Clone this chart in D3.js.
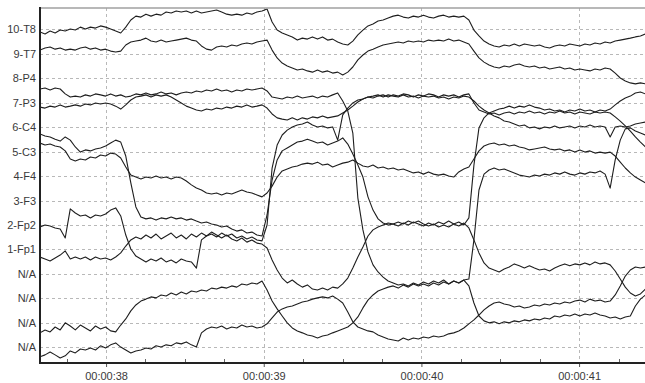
<!DOCTYPE html>
<html>
<head>
<meta charset="utf-8">
<script src="https://cdn.jsdelivr.net/npm/d3@7"></script>
<style>
  html, body { margin: 0; padding: 0; background: #fff; }
  svg { display: block; font-family: "Liberation Sans", Arial, sans-serif; }
</style>
</head>
<body>
<div id="chart"></div>
<script>
// channel rows, bottom (1) to top (14)
const channelLabels = ["N/A", "N/A", "N/A", "N/A", "1-Fp1", "2-Fp2", "3-F3", "4-F4", "5-C3", "6-C4", "7-P3", "8-P4", "9-T7", "10-T8"];
const secondTicks = [38, 39, 40, 41];
const timeSpan = [37.581, 41.418];
const startTime = 37.581;   // s, first sample
const sampleStep = 0.032;   // s between samples

// signal values, in channel-row units
const traceA = [13.89,13.81,13.93,13.85,13.97,13.93,14.01,13.97,14.09,14.01,
  14.09,14.05,14.14,14.09,14.01,13.93,13.85,14.09,14.38,14.54,
  14.50,14.62,14.54,14.62,14.58,14.71,14.67,14.75,14.71,14.75,
  14.67,14.75,14.67,14.71,14.75,14.79,14.71,14.62,14.58,14.62,
  14.58,14.67,14.62,14.71,14.75,14.83,14.30,13.97,13.85,13.77,
  13.69,13.56,13.64,13.60,13.69,13.60,13.69,13.56,13.60,13.48,
  13.40,13.36,13.52,13.77,13.97,14.14,14.22,14.34,14.38,14.46,
  14.54,14.58,14.50,14.46,14.54,14.50,14.58,14.50,14.46,14.54,
  14.58,14.50,14.54,14.50,14.54,14.38,13.97,13.73,13.52,13.40,
  13.32,13.28,13.36,13.32,13.40,13.32,13.40,13.36,13.32,13.36,
  13.28,13.24,13.32,13.36,13.32,13.40,13.36,13.32,13.40,13.36,
  13.44,13.40,13.48,13.44,13.52,13.56,13.60,13.64,13.69,13.73,
  13.81];
const traceB = [13.15,13.24,13.28,13.19,13.24,13.15,13.19,13.15,13.24,13.28,
  13.19,13.24,13.15,13.19,13.11,13.07,13.11,13.36,13.48,13.52,
  13.56,13.64,13.52,13.48,13.56,13.48,13.52,13.56,13.60,13.64,
  13.56,13.52,13.32,13.19,13.15,13.28,13.32,13.28,13.36,13.32,
  13.40,13.44,13.40,13.48,13.52,13.56,13.15,12.83,12.62,12.50,
  12.42,12.34,12.38,12.30,12.25,12.34,12.25,12.30,12.21,12.25,
  12.13,12.25,12.46,12.75,12.95,13.11,13.19,13.28,13.36,13.40,
  13.44,13.48,13.44,13.52,13.48,13.52,13.48,13.56,13.52,13.56,
  13.52,13.60,13.52,13.56,13.48,13.40,13.11,12.83,12.66,12.54,
  12.46,12.42,12.50,12.46,12.54,12.58,12.50,12.46,12.50,12.42,
  12.46,12.38,12.42,12.46,12.38,12.42,12.34,12.38,12.34,12.30,
  12.38,12.34,12.42,12.38,12.21,12.01,11.89,11.81,11.77,11.81,
  11.77];
const traceC = [11.56,11.60,11.52,11.60,11.56,11.36,11.23,11.27,11.23,11.32,
  11.27,11.36,11.32,11.27,11.36,11.27,11.32,11.23,11.27,11.36,
  11.32,11.40,11.32,11.36,11.44,11.36,11.40,11.32,11.40,11.44,
  11.40,11.48,11.44,11.52,11.48,11.56,11.48,11.52,11.44,11.52,
  11.48,11.56,11.52,11.56,11.60,11.48,11.23,11.19,11.15,11.23,
  11.19,11.27,11.19,11.23,11.27,11.19,11.27,11.23,11.32,11.40,
  11.07,10.66,9.76,7.10,5.80,4.90,4.37,4.08,3.87,3.71,
  3.63,3.55,3.59,3.51,3.63,3.55,3.67,3.59,3.71,3.63,
  3.75,3.59,3.71,3.63,3.75,3.51,2.81,2.28,2.08,2.00,
  2.04,1.96,2.04,2.00,2.08,2.04,2.12,2.08,2.16,2.12,
  2.20,2.16,2.28,2.24,2.32,2.28,2.36,2.28,2.36,2.32,
  2.40,2.32,2.28,2.20,2.24,2.16,2.24,2.28,2.69,2.97,
  3.14];
const traceD = [10.82,10.78,10.86,10.82,10.91,10.82,10.86,10.91,10.86,10.95,
  10.91,10.99,10.95,10.99,10.95,10.86,10.74,10.91,11.11,11.23,
  11.27,11.32,11.23,11.32,11.27,11.32,11.23,11.11,10.99,10.86,
  10.78,10.70,10.66,10.74,10.70,10.78,10.74,10.82,10.78,10.86,
  10.82,10.91,10.82,10.86,10.91,10.78,10.54,10.38,10.33,10.29,
  10.38,10.29,10.38,10.33,10.42,10.38,10.46,10.38,10.42,10.46,
  10.58,10.70,10.86,11.03,11.15,11.23,11.27,11.32,11.23,11.32,
  11.27,11.23,11.32,11.23,11.27,11.19,11.27,11.23,11.27,11.19,
  11.23,11.15,11.23,11.19,11.27,11.23,11.07,10.86,10.70,10.58,
  10.46,10.38,10.25,10.21,10.13,10.05,10.09,9.97,10.01,9.93,
  10.01,9.97,10.05,9.97,10.01,10.05,9.97,10.05,10.01,10.09,
  10.01,10.05,10.01,9.60,10.01,10.05,10.01,10.05,10.13,10.17,
  10.21];
const traceE = [9.72,9.64,9.60,9.51,9.43,9.60,9.47,9.19,8.98,9.07,
  9.03,9.11,9.15,9.23,9.35,9.47,9.39,8.82,7.72,6.74,
  6.33,6.25,6.29,6.20,6.29,6.25,6.33,6.25,6.29,6.20,
  6.25,6.16,6.08,6.12,6.04,6.00,5.92,5.96,5.84,5.75,
  5.80,5.67,5.71,5.59,5.55,6.41,7.84,8.66,9.03,9.15,
  9.27,9.39,9.43,9.51,9.43,9.35,9.39,9.27,9.35,9.43,
  9.56,9.31,8.90,8.45,7.96,7.15,6.61,6.25,6.08,6.00,
  6.04,5.96,6.08,6.00,6.12,6.04,5.96,6.08,6.00,6.12,
  6.04,6.16,6.04,6.12,6.00,6.29,8.45,9.97,10.38,10.58,
  10.66,10.74,10.78,10.86,10.78,10.86,10.82,10.91,10.82,10.78,
  10.70,10.74,10.66,10.70,10.62,10.70,10.66,10.74,10.66,10.70,
  10.62,10.70,10.66,10.74,10.91,11.07,11.19,11.27,11.40,11.44,
  11.36];
const traceF = [9.35,9.27,9.31,9.23,9.19,9.03,8.70,8.62,8.70,8.66,
  8.78,8.74,8.86,8.82,8.94,8.90,8.74,8.37,8.04,7.96,
  7.88,7.96,7.92,8.00,7.92,7.96,7.88,7.96,7.92,7.80,
  7.64,7.51,7.43,7.31,7.27,7.31,7.23,7.31,7.27,7.35,
  7.43,7.35,7.31,7.23,7.15,7.31,7.59,7.96,8.21,8.29,
  8.37,8.41,8.49,8.53,8.49,8.57,8.45,8.49,8.37,8.45,
  8.53,8.57,8.66,8.53,8.41,8.37,8.45,8.33,8.37,8.29,
  8.33,8.25,8.29,8.21,8.13,8.17,8.08,8.17,8.08,8.04,
  8.08,8.00,7.96,8.17,8.29,8.37,8.70,9.03,9.23,9.31,
  9.35,9.27,9.31,9.23,9.27,9.19,9.15,9.07,9.11,9.15,
  9.19,9.11,9.07,9.11,9.03,9.07,8.98,9.07,8.98,9.03,
  8.94,8.98,8.94,8.98,8.82,8.57,8.33,8.13,7.96,7.84,
  7.72];
const traceG = [5.92,6.00,5.96,5.88,5.84,5.47,6.66,6.49,6.37,6.41,
  6.29,6.41,6.37,6.45,6.61,6.70,6.37,5.59,5.02,4.73,
  4.61,4.49,4.61,4.53,4.65,4.49,4.57,4.45,4.61,4.53,
  4.49,4.24,5.39,5.55,5.63,5.51,5.67,5.55,5.63,5.47,
  5.55,5.43,5.51,5.39,5.35,6.00,8.33,9.27,9.68,9.88,
  10.01,10.09,10.13,10.21,10.09,10.01,10.05,9.97,10.01,9.47,
  10.50,10.78,10.99,11.11,11.15,11.23,11.19,11.27,11.32,11.23,
  11.32,11.27,11.36,11.32,11.23,11.32,11.27,11.36,11.32,11.23,
  11.32,11.27,11.32,11.23,11.32,11.36,10.99,10.70,10.62,10.54,
  10.58,10.50,10.58,10.62,10.54,10.62,10.58,10.66,10.58,10.62,
  10.54,10.62,10.58,10.66,10.58,10.62,10.54,10.62,10.58,10.54,
  10.62,10.58,10.62,10.58,10.42,10.25,10.05,9.84,9.60,9.39,
  9.19];
const traceH = [4.69,4.61,4.53,4.65,4.77,4.94,4.61,4.69,4.61,4.69,
  4.57,4.69,4.61,4.65,4.57,4.69,4.86,5.14,5.39,5.51,
  5.43,5.59,5.47,5.63,5.43,5.55,5.67,5.47,5.59,5.43,
  5.63,5.51,5.67,5.55,5.71,5.59,5.47,5.59,5.43,5.35,
  5.47,5.30,5.39,5.26,5.22,5.06,4.57,4.16,3.83,3.63,
  3.75,3.59,3.46,3.55,3.38,3.34,3.42,3.34,3.46,3.42,
  3.59,3.83,4.24,4.69,5.10,5.55,5.80,5.92,6.00,6.08,
  6.04,6.12,6.04,6.16,6.08,6.16,6.04,5.96,6.04,5.92,
  6.00,5.92,6.04,5.96,6.08,5.88,5.39,4.86,4.45,4.24,
  4.16,4.08,4.20,4.28,4.41,4.33,4.24,4.33,4.24,4.16,
  4.20,4.12,4.24,4.33,4.41,4.33,4.41,4.37,4.45,4.37,
  4.49,4.41,4.45,4.37,4.12,3.79,3.46,3.22,3.10,3.18,
  3.38];
const traceI = [1.59,1.71,1.63,1.83,1.71,2.00,1.87,1.71,1.91,1.79,
  1.67,1.87,1.75,1.83,1.67,1.63,1.91,2.16,2.49,2.73,
  2.89,2.97,3.06,3.02,3.14,3.10,3.22,3.14,3.26,3.18,
  3.30,3.26,3.34,3.30,3.42,3.38,3.46,3.42,3.51,3.46,
  3.59,3.55,3.63,3.59,3.71,3.34,2.89,2.57,2.28,2.00,
  1.79,1.67,1.59,1.50,1.46,1.38,1.46,1.50,1.59,1.67,
  1.75,1.83,2.00,2.24,2.61,2.93,3.14,3.30,3.38,3.46,
  3.51,3.42,3.55,3.46,3.59,3.51,3.59,3.51,3.63,3.55,
  3.67,3.59,3.71,3.63,3.75,3.79,5.39,7.43,8.08,8.25,
  8.33,8.25,8.29,8.21,8.13,8.04,8.00,7.96,8.04,8.00,
  8.08,8.04,8.13,8.08,8.17,8.08,8.04,8.13,8.08,8.17,
  8.13,8.21,8.08,7.51,8.66,9.47,9.93,9.97,9.84,9.76,
  9.68];
const traceJ = [0.61,0.69,0.81,0.69,0.56,0.65,0.85,0.77,0.93,0.89,
  0.97,0.89,1.06,0.97,1.10,1.18,1.01,0.89,0.77,0.85,
  0.89,0.97,0.93,1.06,1.01,1.10,1.06,1.18,1.14,1.22,
  1.10,1.01,1.59,1.75,1.83,1.79,1.87,1.75,1.83,1.79,
  1.91,1.83,1.87,1.79,1.83,1.96,2.20,2.44,2.57,2.65,
  2.69,2.77,2.85,2.89,2.97,3.02,3.06,3.02,3.10,2.97,
  2.81,2.44,2.04,1.83,1.75,1.67,1.63,1.50,1.42,1.34,
  1.30,1.26,1.38,1.30,1.38,1.34,1.42,1.38,1.46,1.42,
  1.46,1.55,1.59,1.67,1.79,1.96,2.12,2.32,2.53,2.69,
  2.81,2.85,2.77,2.73,2.65,2.69,2.61,2.65,2.73,2.69,
  2.77,2.73,2.81,2.77,2.85,2.81,2.89,2.93,2.85,2.97,
  2.89,2.93,2.85,2.89,3.14,3.51,3.91,4.16,4.28,4.24,
  4.28];

const traces = [traceA, traceB, traceC, traceD, traceE, traceF, traceG, traceH, traceI, traceJ];

const width = 645, height = 383;
const plot = {left: 40, right: 645, top: 8, bottom: 363};

const x = d3.scaleLinear().domain(timeSpan).range([plot.left, plot.right]);
const y = d3.scaleLinear().domain([0.358, 14.872]).range([plot.bottom, plot.top]);

const svg = d3.select('#chart').append('svg')
    .attr('width', width)
    .attr('height', height);

svg.append('defs').append('clipPath')
    .attr('id', 'plot-clip')
  .append('rect')
    .attr('x', plot.left)
    .attr('y', plot.top)
    .attr('width', plot.right - plot.left)
    .attr('height', plot.bottom - plot.top);

// dashed grid
const rows = d3.range(1, channelLabels.length + 1);
svg.append('g')
    .attr('class', 'grid-rows')
  .selectAll('line')
  .data(rows)
  .enter().append('line')
    .attr('x1', plot.left)
    .attr('x2', plot.right)
    .attr('y1', d => Math.round(y(d)) + 0.5)
    .attr('y2', d => Math.round(y(d)) + 0.5)
    .attr('stroke', '#b8b8b8')
    .attr('stroke-dasharray', '3,3');

svg.append('g')
    .attr('class', 'grid-cols')
  .selectAll('line')
  .data(secondTicks)
  .enter().append('line')
    .attr('x1', d => Math.round(x(d)) + 0.5)
    .attr('x2', d => Math.round(x(d)) + 0.5)
    .attr('y1', plot.top)
    .attr('y2', plot.bottom)
    .attr('stroke', '#b8b8b8')
    .attr('stroke-dasharray', '3,3');

// traces
const line = d3.line()
    .x((d, i) => x(startTime + i * sampleStep))
    .y(d => y(d));

svg.append('g')
    .attr('clip-path', 'url(#plot-clip)')
  .selectAll('path')
  .data(traces)
  .enter().append('path')
    .attr('d', line)
    .attr('fill', 'none')
    .attr('stroke', '#1e1e1e')
    .attr('stroke-width', 1.1)
    .attr('stroke-linejoin', 'round');

// axes
const yAxis = d3.axisLeft(y)
    .tickValues(rows)
    .tickFormat(d => channelLabels[d - 1])
    .tickSize(0)
    .tickPadding(4);

const yg = svg.append('g')
    .attr('transform', `translate(${plot.left},0)`)
    .call(yAxis);
yg.select('.domain').remove();
yg.selectAll('text')
    .attr('fill', '#3a3a3a')
    .style('font-size', '11px');

const xAxis = d3.axisBottom(x)
    .tickValues(secondTicks)
    .tickFormat(d => '00:00:' + d)
    .tickSize(4)
    .tickPadding(5);

const xg = svg.append('g')
    .attr('transform', `translate(0,${plot.bottom})`)
    .call(xAxis);
xg.select('.domain').remove();
xg.selectAll('line').attr('stroke', '#555');
xg.selectAll('text')
    .attr('fill', '#3a3a3a')
    .style('font-size', '11px');

// minor ticks every quarter second, pointing inward
const minorTicks = d3.range(37.75, 41.42, 0.25).filter(t => Math.abs(t - Math.round(t)) > 0.01);
svg.append('g')
  .selectAll('line')
  .data(minorTicks)
  .enter().append('line')
    .attr('x1', d => Math.round(x(d)) + 0.5)
    .attr('x2', d => Math.round(x(d)) + 0.5)
    .attr('y1', plot.bottom)
    .attr('y2', plot.bottom - 4)
    .attr('stroke', '#666');

// frame
svg.append('line')
    .attr('x1', plot.left).attr('x2', plot.right)
    .attr('y1', plot.top).attr('y2', plot.top)
    .attr('stroke', '#a0a0a0')
    .attr('stroke-width', 1.5);
svg.append('line')
    .attr('x1', plot.left).attr('x2', plot.left)
    .attr('y1', plot.top - 1).attr('y2', plot.bottom + 1)
    .attr('stroke', '#222')
    .attr('stroke-width', 2);
svg.append('line')
    .attr('x1', plot.left - 1).attr('x2', plot.right)
    .attr('y1', plot.bottom).attr('y2', plot.bottom)
    .attr('stroke', '#222')
    .attr('stroke-width', 2);
</script>
</body>
</html>
